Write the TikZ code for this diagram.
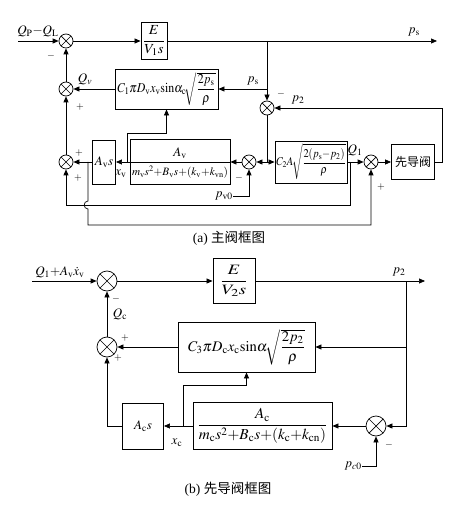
\documentclass[tikz,border=0pt]{standalone}
\usepackage{amsmath}
\usepackage{mathptmx}
\usepackage{graphicx}
\usepackage{fontspec}
\setmainfont{Liberation Serif}
\newfontfamily\cjk{Noto Sans CJK SC}
\usetikzlibrary{arrows.meta,calc}
\newcommand\fitw[2]{\resizebox{#1}{!}{#2}}
\newcommand\fitwh[3]{\resizebox*{#1}{#2}{#3}}
\tikzset{
 arr/.style={-{Triangle[length=6pt,width=5pt]}},
 blk/.style={draw, line width=0.9pt, inner sep=1pt},
 sumA/.style={draw, circle, minimum size=14pt, inner sep=0pt,
   path picture={\draw (path picture bounding box.north west)--(path picture bounding box.south east)
                       (path picture bounding box.north east)--(path picture bounding box.south west);}},
 sumB/.style={sumA, minimum size=20pt},
 lbl/.style={inner sep=0pt},
 sgn/.style={inner sep=0pt, font=\fontsize{10}{12}\selectfont},
}
\begin{document}
\begin{tikzpicture}[x=1pt,y=-1pt,line width=0.7pt,font=\fontsize{13}{15}\selectfont]
\useasboundingbox (0,0) rectangle (456,510);
% ---------------- part (a)
\node[sumA] (s1) at (66,41) {};
\node[sumA] (s2) at (66,89) {};
\node[sumA] (s3) at (66,162) {};
\node[sumA] (s4) at (267,108) {};
\node[sumA] (s5) at (249,162) {};
\node[sumA] (s6) at (371,162) {};
\node[blk, minimum width=26pt, minimum height=37pt] (e1) at (154,41) {\fitwh{22pt}{30pt}{$\dfrac{E}{V_1 s}$}};
\node[blk, minimum width=103pt, minimum height=40pt] (c1) at (166.5,89) {\fitwh{98pt}{33pt}{$C_1\pi D_\mathrm{v}x_\mathrm{v}\mathrm{sin}\alpha_\mathrm{c}\!\sqrt{\dfrac{2p_\mathrm{s}}{\rho}}$}};
\node[blk, minimum width=23pt, minimum height=44pt] (avs) at (104,162) {$A_\mathrm{v}s$};
\node[blk, minimum width=100pt, minimum height=45pt] (avb) at (180,162) {};
\node[lbl] (avn) at (180,153) {$A_\mathrm{v}$};
\node[lbl] (avd) at (180,172) {\fitw{96pt}{$m_\mathrm{v}s^2{+}B_\mathrm{v}s{+}(k_\mathrm{v}{+}k_\mathrm{vn})$}};
\node[blk, minimum width=72pt, minimum height=42pt] (c2) at (311,162) {\fitwh{69pt}{36pt}{$C_2A\!\sqrt{\dfrac{2(p_\mathrm{s}{-}p_2)}{\rho}}$}};
\node[blk, minimum width=43pt, minimum height=35pt] (xd) at (413,162) {\cjk\fontsize{12}{14}\selectfont 先导阀};
\draw (avb.west) -- (avb.east);
% coordinates
\coordinate (in1) at (18,41);
\coordinate (outa) at (437,41);
\coordinate (ja) at (267,41);
\coordinate (jb) at (267,89);
\coordinate (jc) at (267,162);
\coordinate (fb1) at (442,162);
\coordinate (fb2) at (442,108);
\coordinate (jx) at (127,162);
\coordinate (jx2) at (127,133);
\coordinate (jx3) at (166.5,133);
\coordinate (q1b) at (350,162);
\coordinate (q1c) at (350,205);
\coordinate (q1d) at (66,205);
\coordinate (ab) at (88,162);
\coordinate (ab1) at (88,201);
\coordinate (ab2) at (88,209);
\coordinate (ab3) at (88,225);
\coordinate (ab4) at (371,225);
% connectors
\draw[arr] (in1) -- (s1);
\draw[arr] (s1) -- (e1);
\draw[arr] (e1) -- (outa);
\draw[arr] (ja) -- (s4);
\draw[arr] (jb) -- (c1);
\draw[arr] (xd.east) -- (fb1) -- (fb2) -- (s4);
\draw (s4) -- (jc);
\draw[arr] (jc) -- (s5);
\draw[arr] (jc) -- (c2);
\draw[arr] (c2) -- (s6);
\draw[arr] (s6) -- (xd);
\draw[arr] (s5) -- (avb);
\draw[arr] (avb) -- (avs);
\draw[arr] (avs) -- (s3);
\draw[arr] (jx) -- (jx2) -- (jx3) -- (c1.south);
\draw[arr] (s3) -- (s2);
\draw[arr] (s2) -- (s1);
\draw[arr] (c1) -- (s2);
\draw[arr] (q1b) -- (q1c) -- (q1d) -- (s3);
\draw[arr] (ab) -- (ab1) .. controls (83,201) and (83,209) .. (ab2) -- (ab3) -- (ab4) -- (s6);
\node[lbl, anchor=east] (lpv0) at (233,196) {$p_\mathrm{v0}$};
\draw[arr] (lpv0.east) -- (s5 |- lpv0.east) -- (s5);
% labels
\node[lbl, anchor=south west] (lqin) at (17,37) {$Q_\mathrm{P}{-}Q_\mathrm{L}$};
\node[lbl] (lps) at (414,32) {$p_\mathrm{s}$};
\node[lbl] (lps2) at (253,81) {$p_\mathrm{s}$};
\node[lbl] (lp2) at (298,100) {$p_2$};
\node[lbl] (lq1) at (355,150) {$Q_1$};
\node[lbl] (lqv) at (85,79) {$Q_v$};
\node[lbl] (lxv) at (121,174) {$x_\mathrm{v}$};
\node[sgn] (m1) at (51,56) {$-$};
\node[sgn] (m4) at (281,94) {$-$};
\node[sgn] (m5) at (239,178) {$-$};
\node[sgn] (p2a) at (80,107) {$+$};
\node[sgn] (p3a) at (79,153) {$+$};
\node[sgn] (p3b) at (78,178) {$+$};
\node[sgn] (p6) at (381,187) {$+$};
\node[font=\fontsize{13.5}{15}\selectfont] (capa) at (229,238) {(a) {\cjk 主阀框图}};
% ---------------- part (b)
\node[sumB] (s7) at (107,281) {};
\node[sumB] (s9) at (107,347) {};
\node[sumB] (s8) at (376,426) {};
\node[blk, minimum width=42pt, minimum height=45pt] (e2) at (234,281) {\fitwh{28pt}{31pt}{$\dfrac{E}{V_2 s}$}};
\node[blk, minimum width=137pt, minimum height=50pt] (c3) at (246.5,347) {\fitw{117pt}{$C_3\pi D_\mathrm{c}x_\mathrm{c}\mathrm{sin}\alpha\!\sqrt{\dfrac{2p_2}{\rho}}$}};
\node[blk, minimum width=41pt, minimum height=46pt] (acs) at (143,426) {$A_\mathrm{c}s$};
\node[blk, minimum width=139pt, minimum height=47pt] (bb) at (262.5,426) {\fitw{130pt}{$\dfrac{A_\mathrm{c}}{m_\mathrm{c}s^2{+}B_\mathrm{c}s{+}(k_\mathrm{c}{+}k_\mathrm{cn})}$}};
\coordinate (in2) at (32,281);
\coordinate (outb) at (425,281);
\coordinate (jd) at (406,281);
\coordinate (je) at (406,347);
\coordinate (jf) at (406,426);
\coordinate (jg) at (107,426);
\coordinate (jh) at (183,426);
\coordinate (jh2) at (183,385);
\coordinate (jh3) at (246.5,385);
\draw[arr] (in2) -- (s7);
\draw[arr] (s7) -- (e2);
\draw[arr] (e2) -- (outb);
\draw[arr] (jd) -- (jf) -- (s8);
\draw[arr] (je) -- (c3);
\draw[arr] (c3) -- (s9);
\draw[arr] (s9) -- (s7);
\draw[arr] (acs) -- (jg) -- (s9);
\draw[arr] (s8) -- (bb);
\draw[arr] (bb) -- (acs);
\draw[arr] (jh) -- (jh2) -- (jh3) -- (c3.south);
\node[lbl, anchor=east] (lpc0) at (362,466) {$p_{c0}$};
\draw[arr] (lpc0.east) -- (s8 |- lpc0.east) -- (s8);
\node[lbl, anchor=south west] (lin2) at (35,278) {$Q_1{+}A_\mathrm{v}\dot{x}_\mathrm{v}$};
\node[lbl] (lp2b) at (399,272) {$p_2$};
\node[lbl] (lqc) at (120,314) {$Q_\mathrm{c}$};
\node[lbl] (lxc) at (177,443) {$x_\mathrm{c}$};
\node[sgn] (m7) at (116,299) {$-$};
\node[sgn] (p9a) at (125,338) {$+$};
\node[sgn] (p9b) at (118,358) {$+$};
\node[sgn] (m8) at (389,445) {$-$};
\node[font=\fontsize{13.5}{15}\selectfont] (capb) at (228,489) {(b) {\cjk 先导阀框图}};
\end{tikzpicture}
\end{document}
